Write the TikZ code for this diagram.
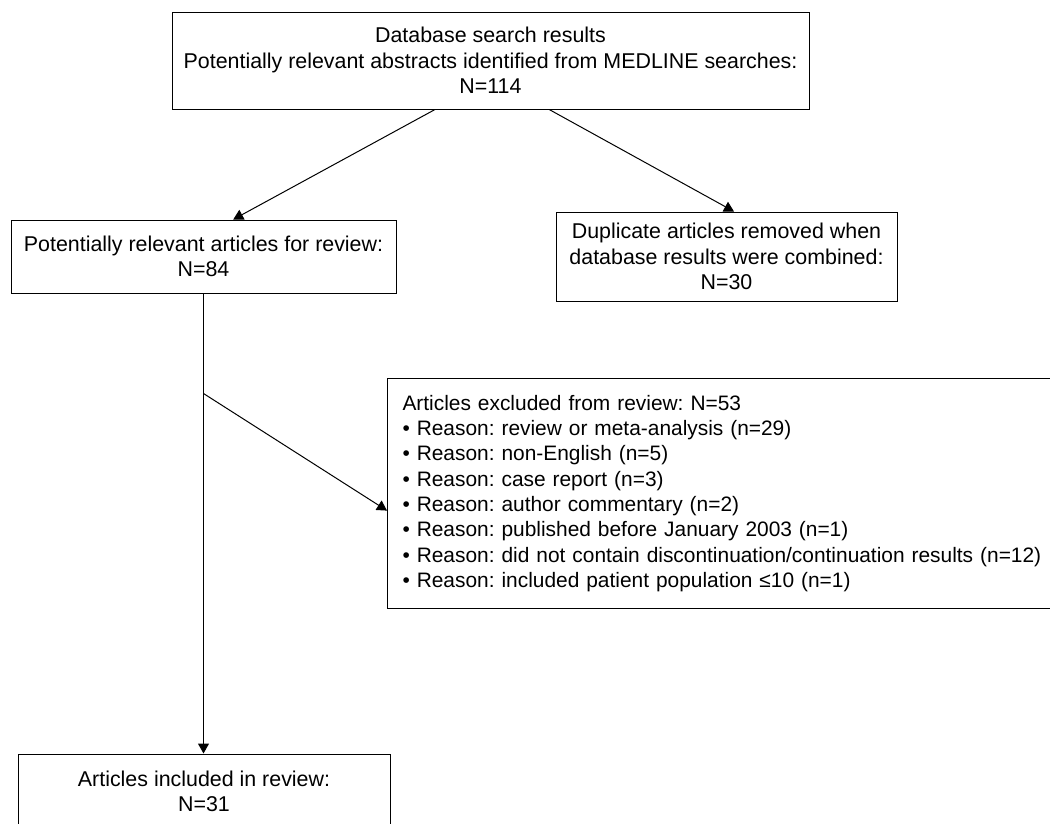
\documentclass[tikz,border=0pt]{standalone}
\usepackage{fontspec}
\setmainfont{Liberation Sans}
\usetikzlibrary{arrows.meta,positioning,calc}
\frenchspacing
\tikzset{
  flowbox/.style={draw=black, line width=1pt, fill=white, align=center, inner sep=0pt,
    text=black, font=\fontsize{21.4}{25.5}\selectfont},
  listbox/.style={flowbox, align=left, anchor=north west, text width=660pt, inner xsep=15pt,
    font=\fontsize{20.9}{25.3}\selectfont},
  flowarr/.style={-{Triangle[length=10pt,width=11pt]}, draw=black, line width=1pt},
}
\begin{document}
\begin{tikzpicture}[x=1pt,y=-1pt]
\useasboundingbox (0,0) rectangle (1050,823);

% ================= boxes =================
\node[flowbox, minimum width=637pt, minimum height=97pt] (search) at (490.5,60.5)
  {Database search results\\
   Potentially relevant abstracts identified from MEDLINE searches:\\
   N=114};
\node[flowbox, minimum width=385pt, minimum height=73pt] (review) at (203.5,256.5)
  {Potentially relevant articles for review:\\N=84};
\node[flowbox, minimum width=341pt, minimum height=89pt, right=159pt of review] (dup)
  {Duplicate articles removed when\\database results were combined:\\N=30};
\node[listbox, minimum height=230pt] (excl) at (387,378)
  {Articles excluded from review: N=53\\
   • Reason: review or meta-analysis (n=29)\\
   • Reason: non-English (n=5)\\
   • Reason: case report (n=3)\\
   • Reason: author commentary (n=2)\\
   • Reason: published before January 2003 (n=1)\\
   • Reason: did not contain discontinuation/continuation results (n=12)\\
   • Reason: included patient population ≤10 (n=1)};
\node[flowbox, minimum width=372pt, minimum height=75pt, below=460pt of review, xshift=0.5pt] (incl)
  {Articles included in review:\\N=31};

% ================= connectors =================
\draw[flowarr] ($(search.south west)!0.413!(search.south east)$) -- ($(review.north west)!0.577!(review.north east)$);
\draw[flowarr] ($(search.south west)!0.592!(search.south east)$) -- ($(dup.north west)!0.522!(dup.north east)$);
\draw[flowarr] (review.south) -- (review.south |- incl.north);
\coordinate (branch) at ($(review.south)+(0,100)$);
\draw[flowarr] (branch) -- ($(excl.north west)!0.574!(excl.south west)$);

\end{tikzpicture}
\end{document}
